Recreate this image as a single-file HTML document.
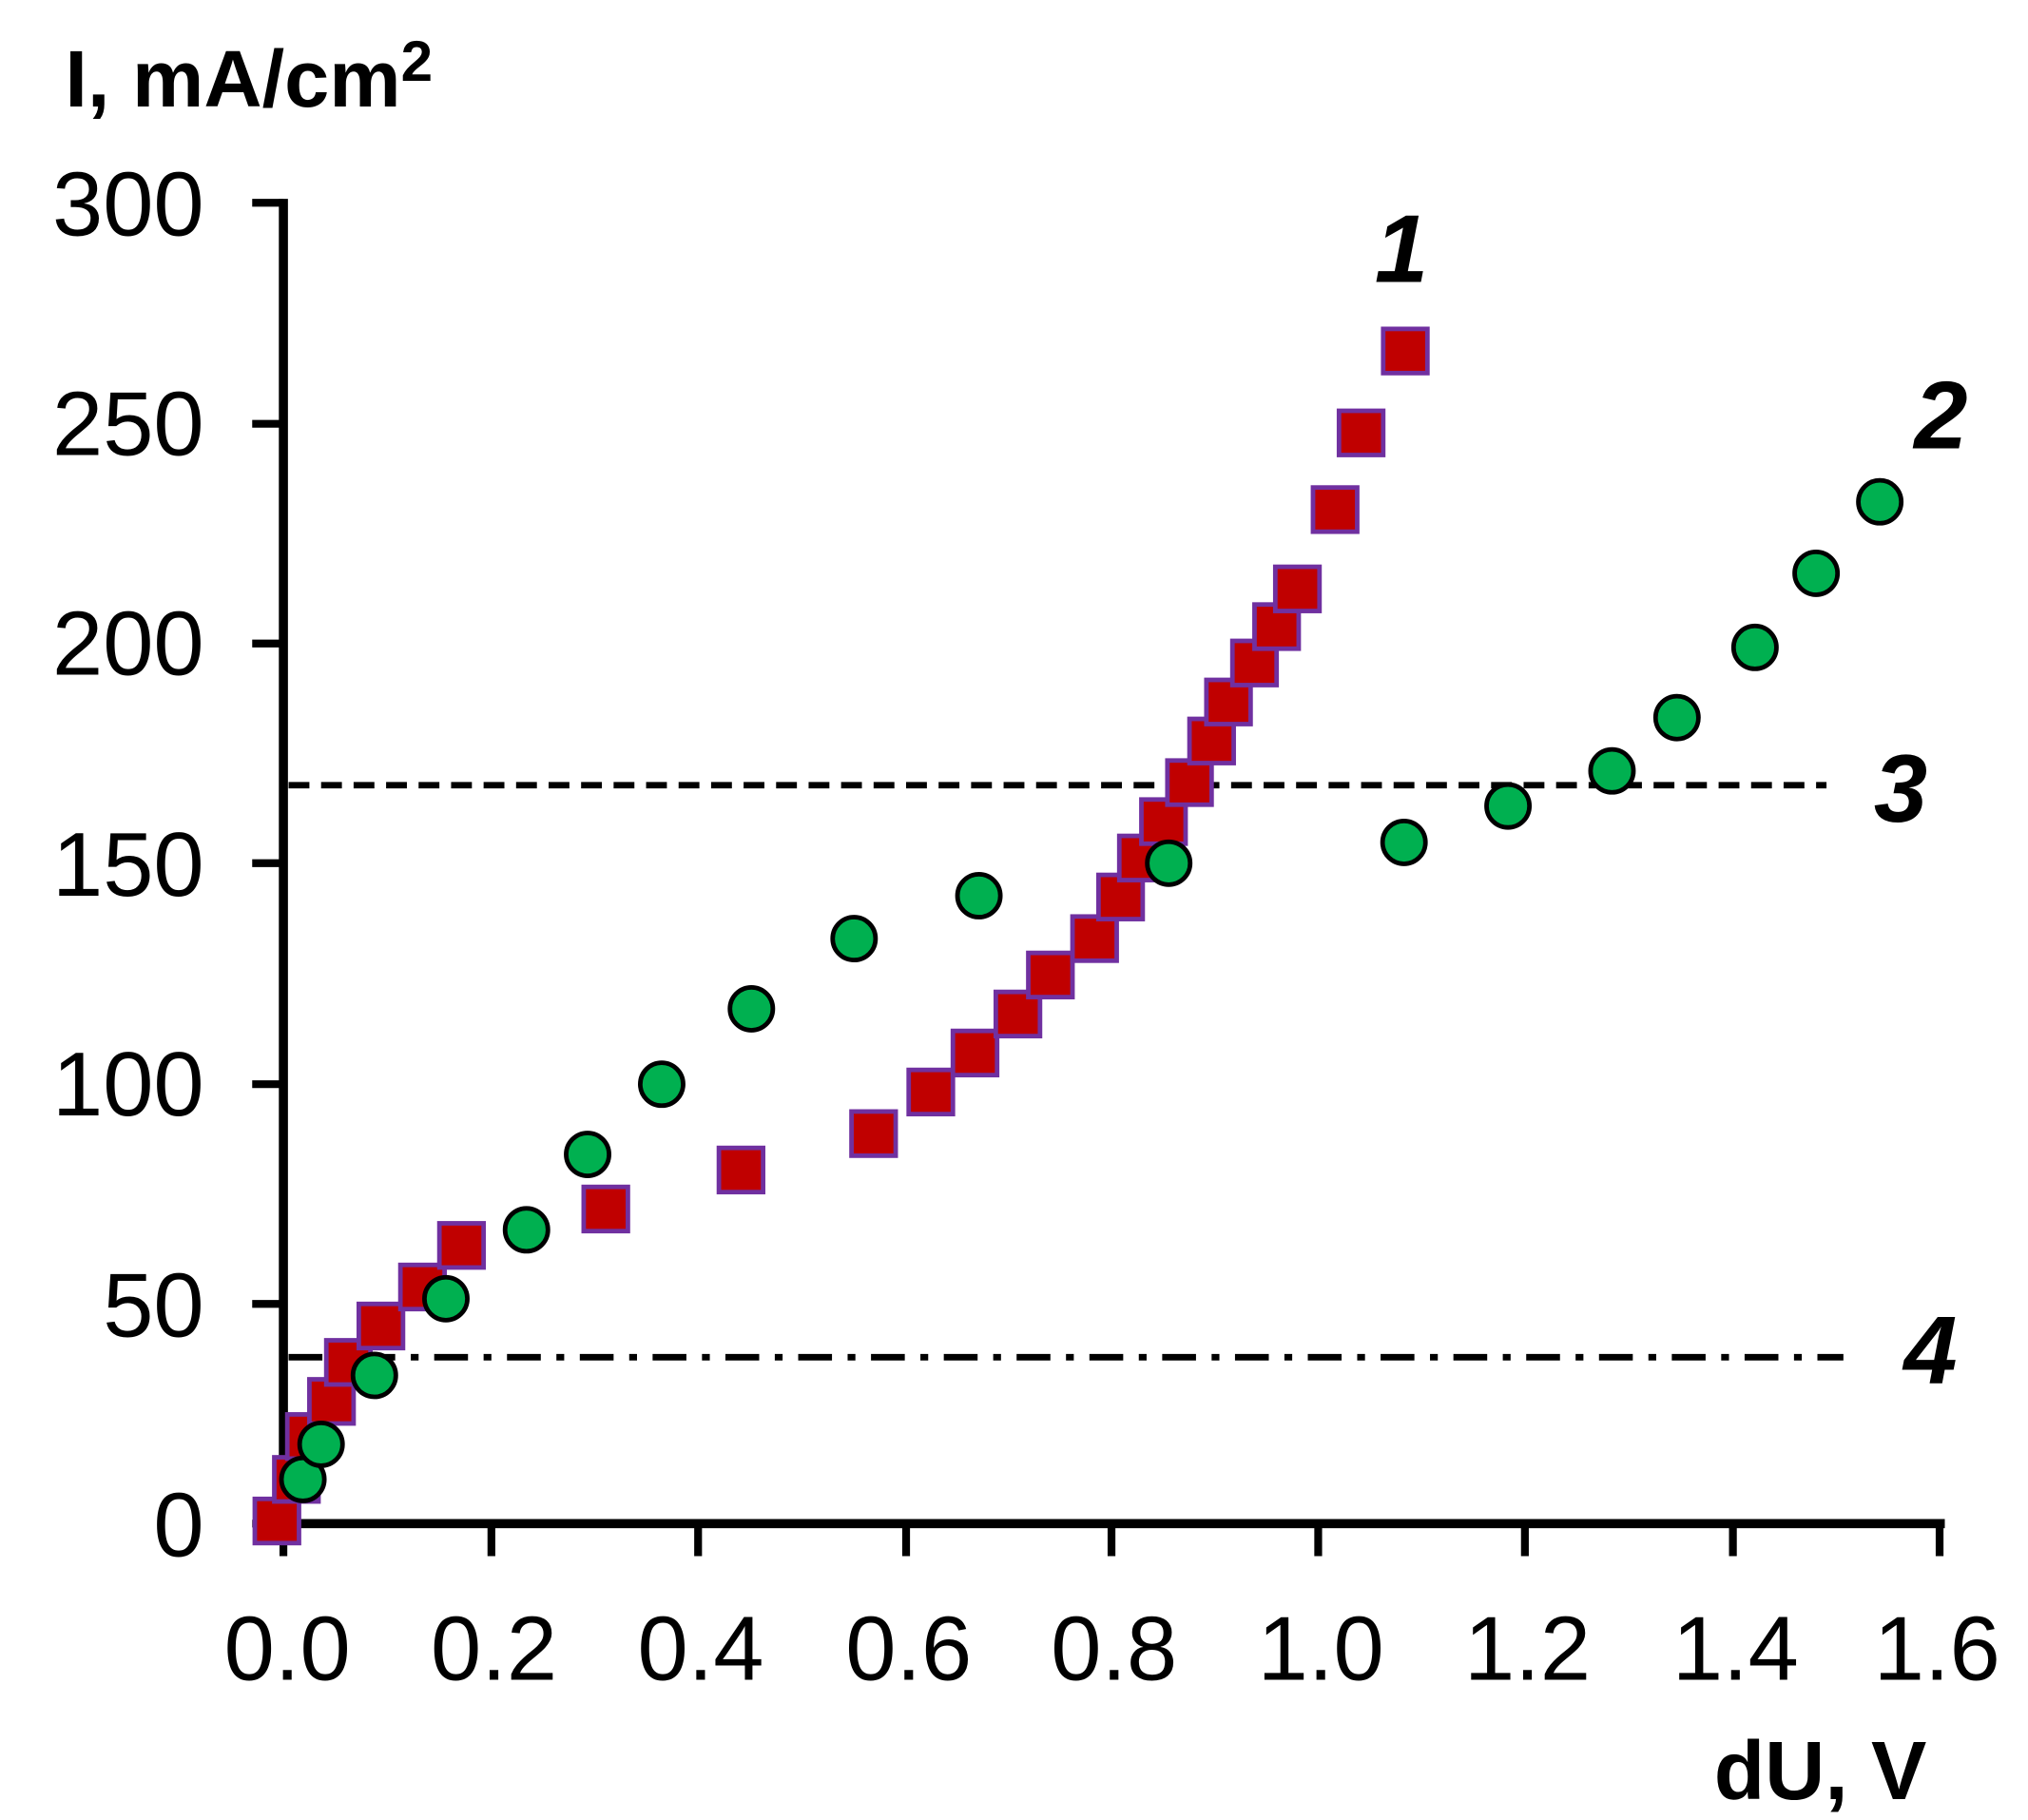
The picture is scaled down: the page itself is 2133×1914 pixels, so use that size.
<!DOCTYPE html>
<html><head><style>html,body{margin:0;padding:0;background:#fff}svg{display:block}</style></head><body>
<svg width="2133" height="1914" viewBox="0 0 1560 1400" preserveAspectRatio="none" xmlns="http://www.w3.org/2000/svg" font-family="Liberation Sans, sans-serif">
<rect width="1560" height="1400" fill="#fff"/>
<g stroke="#000" stroke-width="7" fill="none">
<line x1="218" y1="153" x2="218" y2="1176"/>
<line x1="214" y1="1172" x2="1496" y2="1172"/>
<g stroke-width="6">
<line x1="194" y1="156" x2="218" y2="156"/><line x1="194" y1="326" x2="218" y2="326"/><line x1="194" y1="495" x2="218" y2="495"/><line x1="194" y1="664" x2="218" y2="664"/><line x1="194" y1="834" x2="218" y2="834"/><line x1="194" y1="1003" x2="218" y2="1003"/><line x1="194" y1="1172" x2="218" y2="1172"/>
<line x1="218" y1="1172" x2="218" y2="1197"/><line x1="378" y1="1172" x2="378" y2="1197"/><line x1="537" y1="1172" x2="537" y2="1197"/><line x1="697" y1="1172" x2="697" y2="1197"/><line x1="855" y1="1172" x2="855" y2="1197"/><line x1="1014" y1="1172" x2="1014" y2="1197"/><line x1="1173" y1="1172" x2="1173" y2="1197"/><line x1="1333" y1="1172" x2="1333" y2="1197"/><line x1="1492" y1="1172" x2="1492" y2="1197"/>
</g>
<line x1="222" y1="604" x2="1405" y2="604" stroke-width="5" stroke-dasharray="16,9"/>
<line x1="222" y1="1044" x2="1418" y2="1044" stroke-width="5" stroke-dasharray="26,12,6,12"/>
</g>
<g font-size="70" text-anchor="end" fill="#000">
<text x="157" y="181">300</text><text x="157" y="350">250</text><text x="157" y="519">200</text><text x="157" y="689">150</text><text x="157" y="858">100</text><text x="157" y="1028">50</text><text x="157" y="1197">0</text>
</g>
<g font-size="70" text-anchor="middle" fill="#000">
<text x="221" y="1292">0.0</text><text x="380" y="1292">0.2</text><text x="539" y="1292">0.4</text><text x="699" y="1292">0.6</text><text x="857" y="1292">0.8</text><text x="1016" y="1292">1.0</text><text x="1175" y="1292">1.2</text><text x="1335" y="1292">1.4</text><text x="1490" y="1292">1.6</text>
</g>
<text x="50" y="82" font-size="62" font-weight="bold">I, mA/cm<tspan font-size="44" dy="-20">2</tspan></text>
<text x="1482" y="1384" font-size="64" font-weight="bold" text-anchor="end">dU, V</text>
<g font-size="74" font-weight="bold" font-style="italic" text-anchor="middle">
<text x="1078" y="217">1</text><text x="1493" y="345">2</text><text x="1462" y="632">3</text><text x="1485" y="1064">4</text>
</g>
<g fill="#c00000" stroke="#7030a0" stroke-width="3.5" transform="translate(-2,-2)">
<rect x="198" y="1155" width="34" height="34"/><rect x="213" y="1123" width="34" height="34"/><rect x="223" y="1090" width="34" height="34"/><rect x="240" y="1063" width="34" height="34"/><rect x="253" y="1033" width="34" height="34"/><rect x="278" y="1005" width="34" height="34"/><rect x="310" y="975" width="34" height="34"/><rect x="340" y="943" width="34" height="34"/><rect x="451" y="915" width="34" height="34"/><rect x="555" y="885" width="34" height="34"/><rect x="657" y="857" width="34" height="34"/><rect x="701" y="825" width="34" height="34"/><rect x="735" y="795" width="34" height="34"/><rect x="768" y="765" width="34" height="34"/><rect x="793" y="735" width="34" height="34"/><rect x="827" y="707" width="34" height="34"/><rect x="847" y="675" width="34" height="34"/><rect x="863" y="645" width="34" height="34"/><rect x="880" y="617" width="34" height="34"/><rect x="900" y="587" width="34" height="34"/><rect x="917" y="555" width="34" height="34"/><rect x="930" y="525" width="34" height="34"/><rect x="950" y="495" width="34" height="34"/><rect x="967" y="467" width="34" height="34"/><rect x="983" y="438" width="34" height="34"/><rect x="1012" y="377" width="34" height="34"/><rect x="1032" y="318" width="34" height="34"/><rect x="1066" y="255" width="34" height="34"/>
</g>
<g fill="#00b050" stroke="#000" stroke-width="3.5">
<circle cx="233" cy="1138" r="16.5"/><circle cx="247" cy="1111" r="16.5"/><circle cx="288" cy="1058" r="16.5"/><circle cx="343" cy="999" r="16.5"/><circle cx="405" cy="946" r="16.5"/><circle cx="452" cy="888" r="16.5"/><circle cx="509" cy="834" r="16.5"/><circle cx="578" cy="776" r="16.5"/><circle cx="657" cy="722" r="16.5"/><circle cx="753" cy="689" r="16.5"/><circle cx="899" cy="664" r="16.5"/><circle cx="1080" cy="648" r="16.5"/><circle cx="1160" cy="620" r="16.5"/><circle cx="1240" cy="593" r="16.5"/><circle cx="1290" cy="552" r="16.5"/><circle cx="1350" cy="498" r="16.5"/><circle cx="1397" cy="441" r="16.5"/><circle cx="1446" cy="386" r="16.5"/>
</g>
</svg>
</body></html>
